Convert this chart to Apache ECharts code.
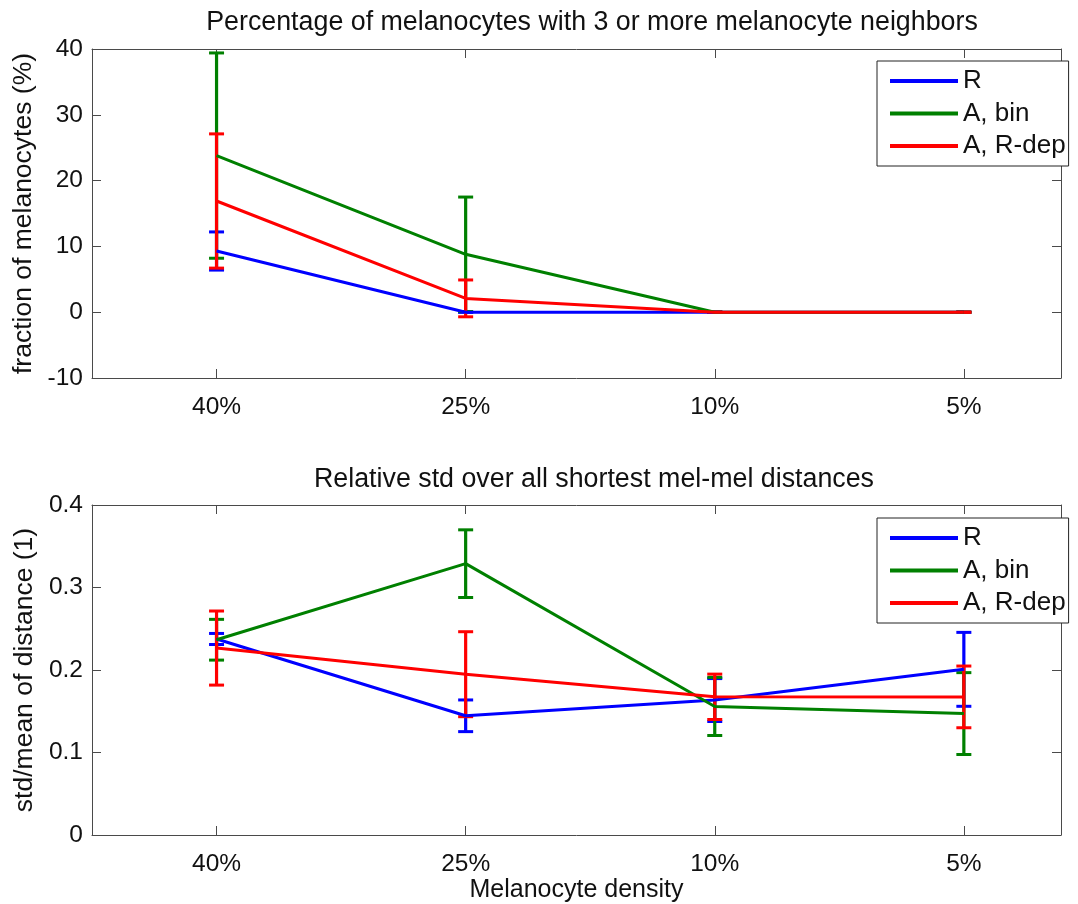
<!DOCTYPE html>
<html>
<head>
<meta charset="utf-8">
<script src="https://cdn.jsdelivr.net/npm/echarts@6/dist/echarts.min.js"></script>
<style>html,body{margin:0;padding:0;background:#fff;}#c{width:1078px;height:904px;}</style>
</head>
<body>
<div id="c"></div>
<script>
// ---- data ----
const categories = ['40%', '25%', '10%', '5%'];
const seriesNames = ['R', 'A, bin', 'A, R-dep'];

// Top panel: fraction of melanocytes with >=3 melanocyte neighbours (%)
const topR_mean     = [9.3, 0, 0, 0];
const topR_err      = [2.9, 0, 0, 0];
const topAbin_mean  = [23.8, 8.8, 0, 0];
const topAbin_err   = [15.6, 8.7, 0, 0];
const topARdep_mean = [16.9, 2.1, 0, 0];
const topARdep_err  = [10.2, 2.8, 0, 0];

// Bottom panel: relative std over all shortest mel-mel distances
const botR_mean     = [0.2376, 0.1445, 0.1636, 0.2008];
const botR_err      = [0.0067, 0.0192, 0.0260, 0.0448];
const botAbin_mean  = [0.2367, 0.3289, 0.1558, 0.1472];
const botAbin_err   = [0.0247, 0.0410, 0.0352, 0.0496];
const botARdep_mean = [0.2266, 0.1949, 0.1675, 0.1674];
const botARdep_err  = [0.0449, 0.0515, 0.0275, 0.0374];

const topYTicks = [-10, 0, 10, 20, 30, 40];
const botYTicks = [0, 0.1, 0.2, 0.3, 0.4];

// ---- styling ----
const colors = ['#0000ff', '#008000', '#ff0000'];
const FONT = 'Liberation Sans, Arial, sans-serif';
const TXT = '#111';
const AX = '#4a4a4a';
const xPos = categories.map((c, i) => i + 1);

const chart = echarts.init(document.getElementById('c'), null, {renderer: 'canvas'});

function xAxisPair(gridIndex, showName) {
  const base = {
    type: 'value', gridIndex: gridIndex, min: 0.5, max: 4.39,
    splitLine: {show: false},
    axisLine: {show: true, onZero: false, lineStyle: {color: AX, width: 1}},
    axisTick: {show: true, inside: true, length: 9, customValues: xPos, lineStyle: {color: AX}},
  };
  const bottom = Object.assign({}, base, {
    position: 'bottom',
    axisLabel: {show: true, customValues: xPos, margin: 17, fontSize: 24.5, fontFamily: FONT, color: TXT,
      formatter: v => categories[Math.round(v) - 1] || ''}
  });
  if (showName) {
    Object.assign(bottom, {name: 'Melanocyte density', nameLocation: 'middle', nameGap: 41,
      nameTextStyle: {fontSize: 25, fontFamily: FONT, color: TXT}});
  }
  const top = Object.assign({}, base, {position: 'top', axisLabel: {show: false}});
  return [bottom, top];
}

function yAxisPair(gridIndex, min, max, interval, name, gap) {
  const base = {
    type: 'value', gridIndex: gridIndex, min: min, max: max, interval: interval,
    splitLine: {show: false},
    axisLine: {show: true, onZero: false, lineStyle: {color: AX, width: 1}},
    axisTick: {show: true, inside: true, length: 9, lineStyle: {color: AX}},
  };
  const left = Object.assign({}, base, {
    position: 'left',
    axisLabel: {show: true, margin: 9, fontSize: 24.5, fontFamily: FONT, color: TXT},
    name: name, nameLocation: 'middle', nameGap: gap,
    nameTextStyle: {fontSize: 26.5, fontFamily: FONT, color: TXT}
  });
  const right = Object.assign({}, base, {position: 'right', axisLabel: {show: false}});
  return [left, right];
}

function errSeries(name, color, mean, err, xi, yi) {
  return {
    name: name, type: 'custom', xAxisIndex: xi, yAxisIndex: yi,
    data: mean.map((m, i) => [xPos[i], m, err[i]]),
    renderItem: function (params, api) {
      const x = api.value(0), m = api.value(1), e = api.value(2);
      const pt = api.coord([x, m + e]);
      const pb = api.coord([x, m - e]);
      const hw = 7.5;
      const st = {stroke: color, lineWidth: 3};
      return {
        type: 'group',
        children: [
          {type: 'line', shape: {x1: pt[0], y1: pt[1], x2: pb[0], y2: pb[1]}, style: {stroke: color, lineWidth: 3.2}},
          {type: 'line', shape: {x1: pt[0] - hw, y1: pt[1], x2: pt[0] + hw, y2: pt[1]}, style: st},
          {type: 'line', shape: {x1: pb[0] - hw, y1: pb[1], x2: pb[0] + hw, y2: pb[1]}, style: st}
        ]
      };
    },
    silent: true
  };
}

function lineSeries(name, color, mean, xi, yi) {
  return {
    name: name, type: 'line', xAxisIndex: xi, yAxisIndex: yi,
    data: mean.map((m, i) => [xPos[i], m]),
    symbol: 'none', lineStyle: {color: color, width: 3}, itemStyle: {color: color},
    animation: false
  };
}

const topMeans = [topR_mean, topAbin_mean, topARdep_mean];
const topErrs = [topR_err, topAbin_err, topARdep_err];
const botMeans = [botR_mean, botAbin_mean, botARdep_mean];
const botErrs = [botR_err, botAbin_err, botARdep_err];

const series = [];
for (let k = 0; k < 3; k++) {
  series.push(lineSeries(seriesNames[k], colors[k], topMeans[k], 0, 0));
  series.push(errSeries(seriesNames[k], colors[k], topMeans[k], topErrs[k], 0, 0));
}
for (let k = 0; k < 3; k++) {
  series.push(lineSeries(seriesNames[k], colors[k], botMeans[k], 2, 2));
  series.push(errSeries(seriesNames[k], colors[k], botMeans[k], botErrs[k], 2, 2));
}

function legend(top) {
  return {
    show: true, orient: 'vertical', left: 877, top: top,
    data: seriesNames, icon: 'rect', itemWidth: 68, itemHeight: 4, itemGap: 6.5,
    backgroundColor: '#fff', borderColor: '#222', borderWidth: 1, borderRadius: 0,
    padding: [7, 3, 7, 13],
    selectedMode: false,
    textStyle: {fontSize: 26, lineHeight: 26, fontFamily: FONT, color: TXT}
  };
}

const option = {
  animation: false,
  backgroundColor: '#fff',
  title: [
    {text: 'Percentage of melanocytes with 3 or more melanocyte neighbors', left: 587, top: 4, textAlign: 'center',
      textStyle: {fontSize: 26.8, fontWeight: 'normal', fontFamily: FONT, color: TXT}},
    {text: 'Relative std over all shortest mel-mel distances', left: 589, top: 461, textAlign: 'center',
      textStyle: {fontSize: 26.8, fontWeight: 'normal', fontFamily: FONT, color: TXT}}
  ],
  grid: [
    {left: 92, top: 49, width: 969, height: 329, show: false},
    {left: 92, top: 505, width: 969, height: 330, show: false}
  ],
  xAxis: [...xAxisPair(0, false), ...xAxisPair(1, true)],
  yAxis: [...yAxisPair(0, -10, 40, 10, 'fraction of melanocytes (%)', 55),
          ...yAxisPair(1, 0, 0.4, 0.1, 'std/mean of distance (1)', 53)],
  legend: [legend(61), legend(518)],
  series: series
};
chart.setOption(option);
</script>
</body>
</html>
